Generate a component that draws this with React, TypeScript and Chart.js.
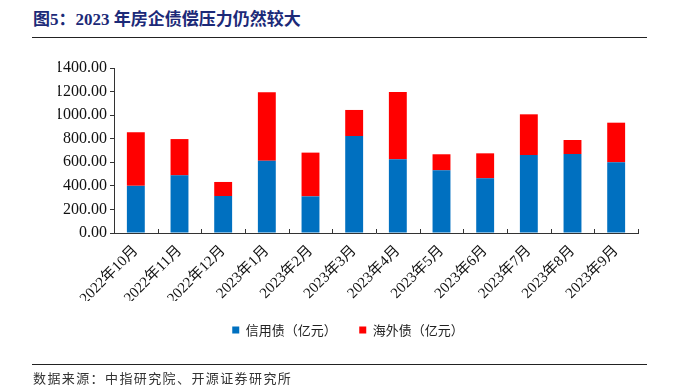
import React, { useEffect, useRef } from "react";
import { Chart, registerables } from "chart.js";

Chart.register(...registerables);

const categories = [
  "2022年10月", "2022年11月", "2022年12月", "2023年1月", "2023年2月", "2023年3月",
  "2023年4月", "2023年5月", "2023年6月", "2023年7月", "2023年8月", "2023年9月",
];
const creditBonds = [400, 489, 314, 614, 311, 823, 625, 532, 464, 662, 670, 600];
const overseasBonds = [454, 308, 119, 580, 371, 221, 571, 136, 212, 345, 119, 336];
const seriesNames = ["信用债（亿元）", "海外债（亿元）"];
const titleText = "图5：2023 年房企债偿压力仍然较大";
const sourceText = "数据来源：中指研究院、开源证券研究所";

const SERIF = '"Times New Roman", "Liberation Serif", "Noto Sans CJK SC", serif';
const CJK = '"Noto Sans CJK SC", "Liberation Serif", sans-serif';

const innerTicks = {
  id: "innerTicks",
  afterDatasetsDraw(chart: any) {
    const xs = chart.scales.x;
    const ctx = chart.ctx;
    const bottom = chart.chartArea.bottom;
    ctx.save();
    ctx.strokeStyle = "#333";
    ctx.lineWidth = 1;
    for (let i = 1; i <= categories.length; i++) {
      const x = Math.round(xs.getPixelForValue(i - 0.5)) + 0.5;
      ctx.beginPath();
      ctx.moveTo(x, bottom);
      ctx.lineTo(x, bottom - 4);
      ctx.stroke();
    }
    ctx.restore();
  },
};

export default function App() {
  const ref = useRef<HTMLCanvasElement>(null);
  useEffect(() => {
    const chart = new Chart(ref.current as HTMLCanvasElement, {
      type: "bar",
      data: {
        labels: categories,
        datasets: [
          { label: seriesNames[0], data: creditBonds, backgroundColor: "#0070C0", stack: "s" },
          { label: seriesNames[1], data: overseasBonds, backgroundColor: "#FF0000", stack: "s" },
        ],
      },
      options: {
        animation: false,
        responsive: false,
        maintainAspectRatio: false,
        layout: { padding: { top: 68, left: 58, right: 39, bottom: 38.5 } },
        datasets: { bar: { categoryPercentage: 1, barPercentage: 0.41 } },
        plugins: {
          title: { display: false },
          tooltip: { enabled: false },
          legend: {
            position: "bottom",
            labels: {
              boxWidth: 7,
              boxHeight: 7,
              padding: 22.5,
              color: "#222",
              font: { family: CJK, size: 13 },
            },
          },
        },
        scales: {
          x: {
            stacked: true,
            afterFit: (s: any) => { s.height = 68; },
            grid: { display: true, drawOnChartArea: false, drawTicks: false, offset: true },
            border: { display: true, color: "#333", width: 1 },
            ticks: {
              autoSkip: false,
              maxRotation: 45,
              minRotation: 45,
              padding: 9,
              color: "#111",
              font: { family: SERIF, size: 15 },
            },
          },
          y: {
            stacked: true,
            min: 0,
            max: 1400,
            afterFit: (s: any) => { s.width = 56; },
            grid: { display: true, drawOnChartArea: false, drawTicks: true, tickLength: 4, color: "#333" },
            border: { display: true, color: "#333", width: 1 },
            ticks: {
              stepSize: 200,
              padding: 3,
              color: "#111",
              font: { family: SERIF, size: 16 },
              callback: (v: any) => Number(v).toFixed(2),
            },
          },
        },
      },
      plugins: [innerTicks],
    } as any);
    return () => chart.destroy();
  }, []);

  return (
    <div style={{ position: "absolute", left: 0, top: 0, width: 677, height: 385, background: "#fff" }}>
      <div
        style={{
          position: "absolute", left: 33, top: 10, lineHeight: "20px", fontSize: 17,
          fontWeight: "bold", color: "#1C2A78", fontFamily: SERIF, whiteSpace: "nowrap",
        }}
      >
        {titleText}
      </div>
      <div style={{ position: "absolute", left: 32, top: 37, width: 615, height: 1, background: "#222" }} />
      <canvas ref={ref} width={677} height={385} style={{ position: "absolute", left: 0, top: 0 }} />
      <div style={{ position: "absolute", left: 32, top: 364, width: 615, height: 1, background: "#222" }} />
      <div
        style={{
          position: "absolute", left: 33, top: 370, lineHeight: "16px", fontSize: 13,
          letterSpacing: "1.4px", color: "#333", fontFamily: CJK, whiteSpace: "nowrap",
        }}
      >
        {sourceText}
      </div>
    </div>
  );
}
